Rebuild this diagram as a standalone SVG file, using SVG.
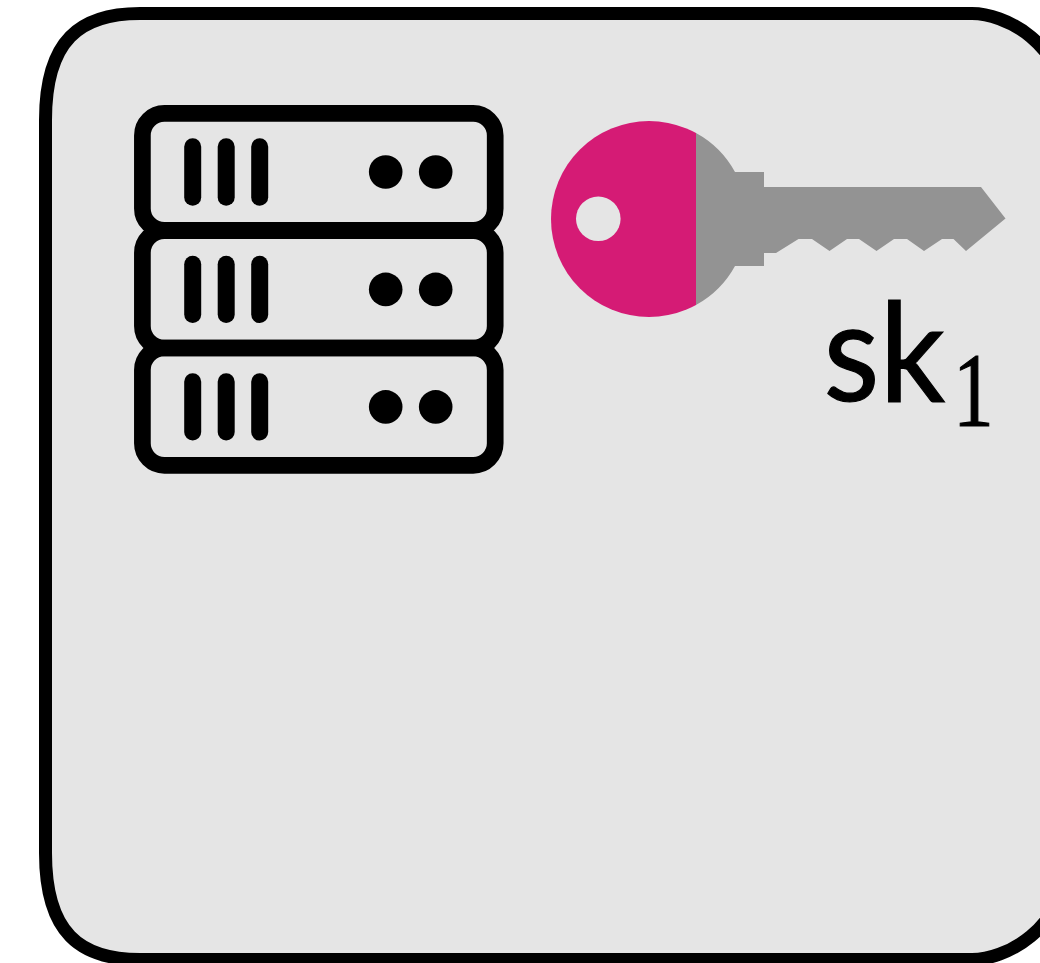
<svg xmlns="http://www.w3.org/2000/svg" width="1040" height="963" viewBox="0 0 1040 963">
  <style>
    .rack { fill: none; stroke: #000; stroke-width: 16.7; }
    .bar { fill: #000; }
    .dot { fill: #000; }
  </style>
  <defs>
    <clipPath id="pinkSide"><rect x="540" y="110" width="156" height="220"/></clipPath>
    <g id="rackDetails">
      <rect class="bar" x="184.2" y="0" width="17" height="67.4" rx="8.5"/>
      <rect class="bar" x="217.7" y="0" width="17" height="67.4" rx="8.5"/>
      <rect class="bar" x="251.2" y="0" width="17" height="67.4" rx="8.5"/>
      <circle class="dot" cx="385.7" cy="33.7" r="16.8"/>
      <circle class="dot" cx="435.7" cy="33.7" r="16.8"/>
    </g>
  </defs>
  <rect width="1040" height="963" fill="#fff"/>
  <g id="frame">
    <path d="M140 13.500H972C1002 13.500 1067 40 1067 120V853C1067 933 1002 959.500 972 959.500H140C80 959.500 45.500 933 45.500 853V120C45.500 40 80 13.500 140 13.500Z" fill="#e5e5e5" stroke="#000" stroke-width="13"/>
  </g>
  <g id="server">
    <rect class="rack" x="142.400" y="113.400" width="352.800" height="117" rx="22"/>
    <rect class="rack" x="142.400" y="230.700" width="352.800" height="117.300" rx="22"/>
    <rect class="rack" x="142.400" y="348" width="352.800" height="117.300" rx="22"/>
    <use href="#rackDetails" y="138.300"/>
    <use href="#rackDetails" y="255.700"/>
    <use href="#rackDetails" y="373.200"/>
  </g>
  <g id="key">
    <path d="M696 133A98 98 0 0 1 735 172H764V187H981L1005.500 218.500L966 251L953.500 239H942L924 251L907 239H894L876.500 251L859 239H847L829.500 251L812 239H798.500L776 253H764V266H735A98 98 0 0 1 696 305Z" fill="#939393"/>
    <circle cx="649" cy="219" r="98" fill="#d51b75" clip-path="url(#pinkSide)"/>
    <circle cx="598.300" cy="218.800" r="22.300" fill="#e5e5e5"/>
  </g>
  <g id="label">
    <text transform="translate(823.400 400.500) scale(0.937 1)" font-family="Lato, 'Liberation Sans', sans-serif" font-size="138" fill="#000" stroke="#000" stroke-width="1.200">sk</text>
    <text x="953" y="426" textLength="40.700" lengthAdjust="spacingAndGlyphs" font-family="'Liberation Serif', serif" font-size="105" fill="#000" stroke="#000" stroke-width="1.200">1</text>
  </g>
</svg>
